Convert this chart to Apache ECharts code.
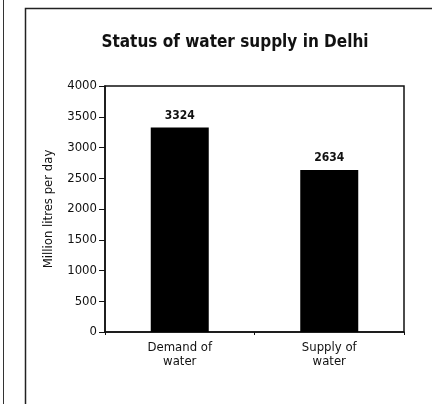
<!DOCTYPE html>
<html>
<head>
<meta charset="utf-8">
<script src="https://cdn.jsdelivr.net/npm/echarts@6/dist/echarts.min.js"></script>
<style>
  html, body { margin: 0; padding: 0; background: #fff; }
  #chart { width: 432px; height: 404px; }
</style>
</head>
<body>
<div id="chart"></div>
<script>
// datos
const categorias = ["Demand of\nwater", "Supply of\nwater"];
const valores = [3324, 2634];
const titulo = "Status of water supply in Delhi";
const nombreEjeY = "Million litres per day";

const fuente = "'Liberation Sans Narrow', 'DejaVu Sans Condensed', sans-serif";

const myChart = echarts.init(document.getElementById("chart"));

const option = {
  backgroundColor: "#fff",
  animation: false,
  title: {
    text: titulo,
    left: 230,
    top: 29,
    textAlign: "center",
    textStyle: { fontFamily: fuente, fontSize: 17, fontWeight: "bold", color: "#111" },
  },
  grid: {
    left: 105,
    right: 28,
    top: 86,
    bottom: 72,
    show: true,
    borderColor: "#111",
    borderWidth: 1.5,
  },
  xAxis: {
    type: "category",
    data: categorias,
    axisLine: { lineStyle: { color: "#111", width: 1.5 } },
    axisTick: { show: true, length: 3, lineStyle: { color: "#111" } },
    axisLabel: { fontFamily: fuente, fontSize: 13, color: "#111", margin: 9, lineHeight: 14 },
  },
  yAxis: {
    type: "value",
    min: 0,
    max: 4000,
    interval: 500,
    name: nombreEjeY,
    nameLocation: "middle",
    nameGap: 50,
    nameTextStyle: { fontFamily: fuente, fontSize: 13, color: "#111" },
    splitLine: { show: false },
    axisLine: { show: true, lineStyle: { color: "#111", width: 1.5 } },
    axisTick: { show: true, length: 6, lineStyle: { color: "#111" } },
    axisLabel: {
      fontFamily: fuente,
      fontSize: 13,
      color: "#111",
      margin: 8,
      formatter: (v) => String(v),
    },
  },
  series: [
    {
      type: "bar",
      data: valores,
      barWidth: 58,
      itemStyle: { color: "#000" },
      label: {
        show: true,
        position: "top",
        distance: 6,
        fontFamily: fuente,
        fontSize: 12,
        fontWeight: "bold",
        color: "#111",
      },
    },
  ],
  graphic: [
    { type: "rect", shape: { x: 25.5, y: 8.5, width: 440, height: 440 }, style: { fill: null, stroke: "#222", lineWidth: 1.5 } },
    { type: "line", shape: { x1: 3.5, y1: 0, x2: 3.5, y2: 404 }, style: { stroke: "#333", lineWidth: 1 } },
  ],
};

myChart.setOption(option);
window.addEventListener("resize", myChart.resize);
</script>
</body>
</html>
